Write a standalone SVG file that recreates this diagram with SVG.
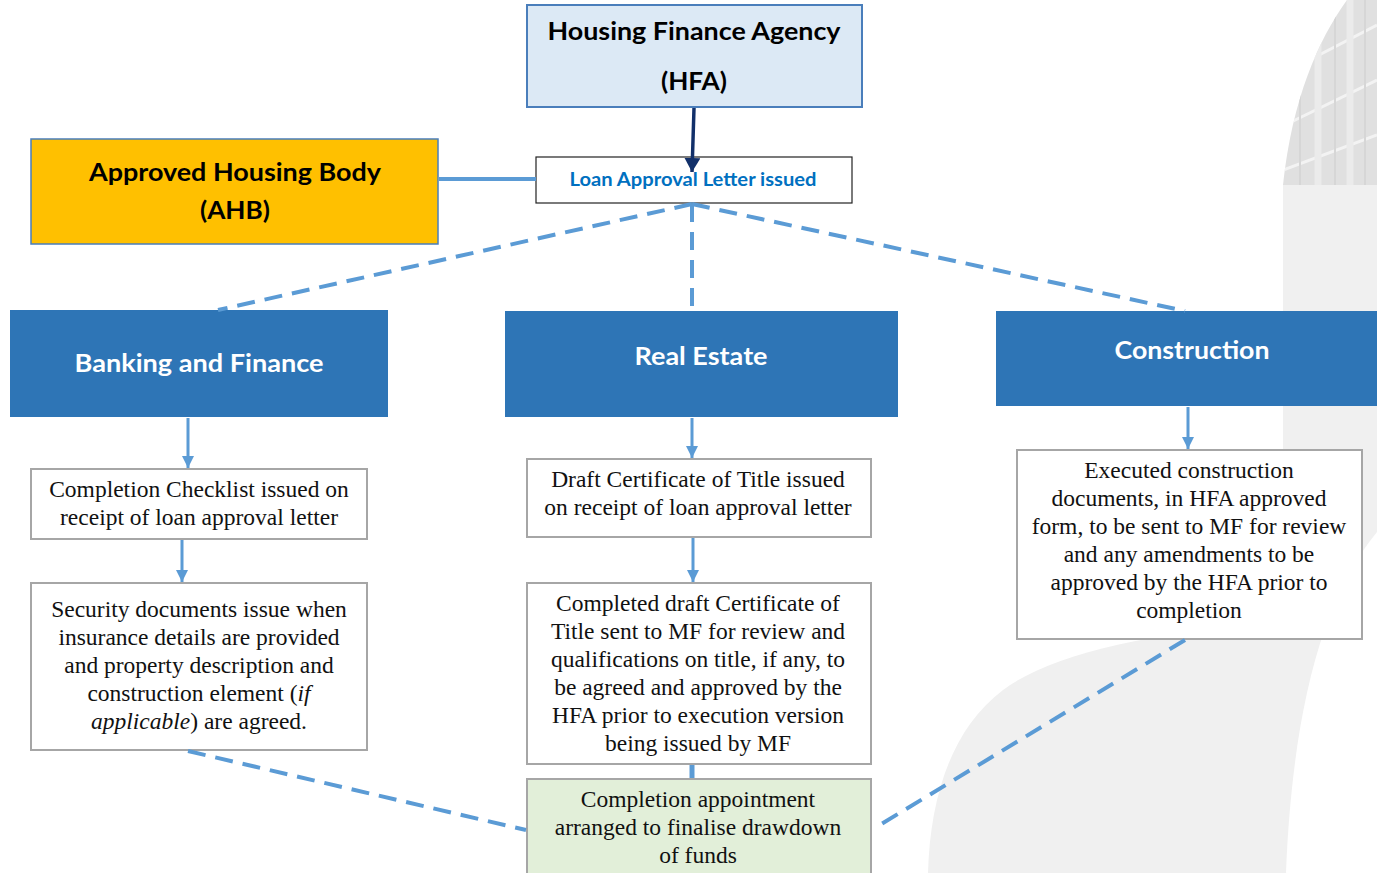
<svg xmlns="http://www.w3.org/2000/svg" width="1377" height="873" viewBox="0 0 1377 873">
  <defs>
    <marker id="arrowBlue" markerUnits="userSpaceOnUse" markerWidth="14" markerHeight="12" refX="12" refY="6" orient="auto">
      <path d="M0,0 L12,6 L0,12 z" fill="#5b9bd5"/>
    </marker>
    <marker id="arrowNavy" markerUnits="userSpaceOnUse" markerWidth="16" markerHeight="16" refX="14" refY="8" orient="auto">
      <path d="M0,0 L14,8 L0,16 z" fill="#12306a"/>
    </marker>
    <clipPath id="towerClip">
      <path d="M1347,0 C1318,40 1292,100 1283,185 L1377,185 L1377,0 Z"/>
    </clipPath>
    <style>
      .hdr { font-family: Lato, "Open Sans", sans-serif; font-weight: bold; text-anchor: middle; }
      .body { font-family: "Liberation Serif", "DejaVu Serif", serif; font-size: 23.5px; fill: #111; text-anchor: middle; }
      .stepBox { fill: #ffffff; stroke: #a6a6a6; stroke-width: 2; }
      .blueBox { fill: #2e75b6; }
      .dash { stroke: #5b9bd5; stroke-width: 4; stroke-dasharray: 18 10; fill: none; }
      .solid { stroke: #5b9bd5; stroke-width: 3; fill: none; }
    </style>
  </defs>

  <!-- faint building backdrop -->
  <g id="backdrop">
    <g clip-path="url(#towerClip)">
      <rect x="1280" y="0" width="97" height="185" fill="#e0e0e0"/>
      <path d="M1290,70 L1377,25 M1285,125 L1377,80 M1283,170 L1377,135" stroke="#f3f3f3" stroke-width="3"/>
      <path d="M1318,0 L1318,185 M1350,0 L1350,185" stroke="#ebebeb" stroke-width="7"/>
      <path d="M1300,40 L1300,185 M1335,0 L1335,185 M1365,0 L1365,185" stroke="#d6d6d6" stroke-width="2"/>
    </g>
    <path d="M1283,185 L1377,185 L1377,532 C1320,600 1292,720 1286,873 L1283,873 Z" fill="#f0f0f0"/>
    <path d="M928,873 C930,800 950,730 1003,690 C1050,655 1150,630 1283,625 L1283,873 Z" fill="#f0f0f0"/>
  </g>

  <!-- Housing Finance Agency -->
  <g id="hfa">
    <rect x="527" y="5" width="335" height="102" fill="#dce9f5" stroke="#4a7ebb" stroke-width="2"/>
    <text class="hdr" x="694" y="40" font-size="25" fill="#000" textLength="293" lengthAdjust="spacingAndGlyphs">Housing Finance Agency</text>
    <text class="hdr" x="694" y="90" font-size="25" fill="#000" textLength="66" lengthAdjust="spacingAndGlyphs">(HFA)</text>
  </g>

  <!-- Approved Housing Body -->
  <g id="ahb">
    <rect x="31" y="139" width="407" height="105" fill="#ffc000" stroke="#4a7ebb" stroke-width="1.5"/>
    <text class="hdr" x="235" y="181" font-size="25" fill="#000" textLength="292" lengthAdjust="spacingAndGlyphs">Approved Housing Body</text>
    <text class="hdr" x="235" y="219" font-size="25" fill="#000" textLength="70" lengthAdjust="spacingAndGlyphs">(AHB)</text>
  </g>

  <!-- Loan approval letter -->
  <g id="loan-letter">
    <rect x="536" y="157" width="316" height="46" fill="#ffffff" stroke="#222" stroke-width="1.2"/>
    <text class="hdr" x="693" y="186" font-size="19" fill="#0070c0" textLength="247" lengthAdjust="spacingAndGlyphs">Loan Approval Letter issued</text>
  </g>

  <!-- workstream headers -->
  <g id="banking">
    <rect class="blueBox" x="10" y="310" width="378" height="107"/>
    <text class="hdr" x="199" y="372" font-size="25" fill="#fff" textLength="249" lengthAdjust="spacingAndGlyphs">Banking and Finance</text>
  </g>
  <g id="real-estate">
    <rect class="blueBox" x="505" y="311" width="393" height="106"/>
    <text class="hdr" x="701" y="365" font-size="25" fill="#fff" textLength="133" lengthAdjust="spacingAndGlyphs">Real Estate</text>
  </g>
  <g id="construction">
    <rect class="blueBox" x="996" y="311" width="381" height="95"/>
    <text class="hdr" x="1192" y="359" font-size="25" fill="#fff" textLength="155" lengthAdjust="spacingAndGlyphs">Construction</text>
  </g>

  <!-- banking steps -->
  <g id="completion-checklist">
    <rect class="stepBox" x="31" y="469" width="336" height="70"/>
    <text class="body" x="199" y="497">Completion Checklist issued on</text>
    <text class="body" x="199" y="525">receipt of loan approval letter</text>
  </g>
  <g id="security-docs">
    <rect class="stepBox" x="31" y="583" width="336" height="167"/>
    <text class="body" x="199" y="617">Security documents issue when</text>
    <text class="body" x="199" y="645">insurance details are provided</text>
    <text class="body" x="199" y="673">and property description and</text>
    <text class="body" x="199" y="701">construction element (<tspan font-style="italic">if</tspan></text>
    <text class="body" x="199" y="729"><tspan font-style="italic">applicable</tspan>) are agreed.</text>
  </g>

  <!-- real estate steps -->
  <g id="draft-title">
    <rect class="stepBox" x="527" y="459" width="344" height="78"/>
    <text class="body" x="698" y="487">Draft Certificate of Title issued</text>
    <text class="body" x="698" y="515">on receipt of loan approval letter</text>
  </g>
  <g id="completed-title">
    <rect class="stepBox" x="527" y="583" width="344" height="181"/>
    <text class="body" x="698" y="611">Completed draft Certificate of</text>
    <text class="body" x="698" y="639">Title sent to MF for review and</text>
    <text class="body" x="698" y="667">qualifications on title, if any, to</text>
    <text class="body" x="698" y="695">be agreed and approved by the</text>
    <text class="body" x="698" y="723">HFA prior to execution version</text>
    <text class="body" x="698" y="751">being issued by MF</text>
  </g>
  <g id="completion-appointment">
    <rect x="527" y="779" width="344" height="100" fill="#e2efd9" stroke="#a6a6a6" stroke-width="2"/>
    <text class="body" x="698" y="807">Completion appointment</text>
    <text class="body" x="698" y="835">arranged to finalise drawdown</text>
    <text class="body" x="698" y="863">of funds</text>
  </g>

  <!-- construction step -->
  <g id="construction-docs">
    <rect class="stepBox" x="1017" y="450" width="345" height="189"/>
    <text class="body" x="1189" y="478">Executed construction</text>
    <text class="body" x="1189" y="506">documents, in HFA approved</text>
    <text class="body" x="1189" y="534">form, to be sent to MF for review</text>
    <text class="body" x="1189" y="562">and any amendments to be</text>
    <text class="body" x="1189" y="590">approved by the HFA prior to</text>
    <text class="body" x="1189" y="618">completion</text>
  </g>

  <!-- connectors, drawn last so the arrowheads sit on top of the boxes -->
  <g id="connectors">
    <line x1="694" y1="108" x2="692" y2="172" stroke="#12306a" stroke-width="3.5" marker-end="url(#arrowNavy)"/>
    <line x1="439" y1="179" x2="536" y2="179" stroke="#5b9bd5" stroke-width="4"/>
    <line class="dash" x1="692" y1="204" x2="218" y2="310"/>
    <line class="dash" x1="692" y1="204" x2="692" y2="311"/>
    <line class="dash" x1="692" y1="204" x2="1185" y2="311"/>
    <line class="solid" x1="188" y1="418" x2="188" y2="468" marker-end="url(#arrowBlue)"/>
    <line class="solid" x1="182" y1="540" x2="182" y2="582" marker-end="url(#arrowBlue)"/>
    <line class="solid" x1="692" y1="418" x2="692" y2="458" marker-end="url(#arrowBlue)"/>
    <line class="solid" x1="693" y1="538" x2="693" y2="582" marker-end="url(#arrowBlue)"/>
    <line class="solid" x1="1188" y1="407" x2="1188" y2="449" marker-end="url(#arrowBlue)"/>
    <line x1="692" y1="765" x2="692" y2="778" stroke="#5b9bd5" stroke-width="5"/>
    <line class="dash" x1="188" y1="751" x2="526" y2="830"/>
    <line class="dash" x1="1185" y1="640" x2="878" y2="826"/>
  </g>
</svg>
